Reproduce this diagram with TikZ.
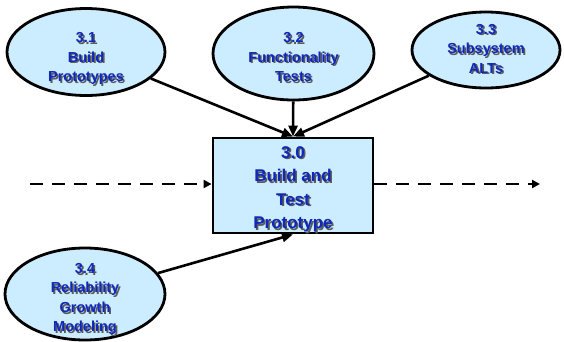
\documentclass[tikz,border=0pt]{standalone}
\usepackage{fontspec}
\setmainfont{Liberation Sans}
\usetikzlibrary{shapes.geometric,arrows.meta}
\definecolor{fillblue}{RGB}{204,236,255}
\definecolor{txtblue}{RGB}{15,40,185}
\definecolor{shgray}{RGB}{90,90,90}
\newcommand\shtxt[1]{\makebox[0pt][l]{\hspace{1.6pt}\raisebox{-1.6pt}{\textcolor{shgray}{#1}}}\textcolor{txtblue}{#1}}
\tikzset{
  proc/.style={ellipse, draw=black, fill=fillblue, line width=2.8pt, inner sep=0pt},
  proctext/.style={inner sep=0pt, align=center, font=\bfseries\fontsize{14.5}{19.5}\selectfont},
  mainbox/.style={rectangle, draw=black, fill=fillblue, line width=2.8pt, inner sep=0pt,
    minimum width=160pt, minimum height=95pt},
  boxtext/.style={inner sep=0pt, align=center, font=\bfseries\fontsize{17}{23.5}\selectfont},
  flow/.style={draw=black, line width=2.6pt, -{Triangle[length=11pt,width=9pt]}},
  dflow/.style={draw=black, line width=2.6pt, dash pattern=on 13pt off 9pt, -{Triangle[length=8pt,width=8pt]}}
}
\begin{document}
\begin{tikzpicture}[x=1pt,y=-1pt]
\useasboundingbox (0,0) rectangle (564,341);
\node[proc, minimum width=158pt, minimum height=87pt] (e1) at (86,52) {};
\node[proc, minimum width=161pt, minimum height=93pt] (e2) at (293.5,53.5) {};
\node[proc, minimum width=148pt, minimum height=76pt] (e3) at (486,50) {};
\node[proc, minimum width=160pt, minimum height=92pt] (e4) at (85,294) {};
\node[mainbox] (box) at (293,185.5) {};
\node[proctext] (t1) at (86,59.5) {\shtxt{3.1}\\\shtxt{Build}\\\shtxt{Prototypes}};
\node[proctext] (t2) at (293.5,58) {\shtxt{3.2}\\\shtxt{Functionality}\\\shtxt{Tests}};
\node[proctext] (t3) at (486,49.5) {\shtxt{3.3}\\\shtxt{Subsystem}\\\shtxt{ALTs}};
\node[proctext] (t4) at (85,300) {\shtxt{3.4}\\\shtxt{Reliability}\\\shtxt{Growth}\\\shtxt{Modeling}};
\node[boxtext] (t0) at (293,190) {\shtxt{3.0}\\\shtxt{Build and}\\\shtxt{Test}\\\shtxt{Prototype}};
\coordinate (inL) at (30,184);
\coordinate (outR) at (540,184);
\draw[flow] (e1) -- (box.north);
\draw[flow] (e2) -- (box.north);
\draw[flow] (e3) -- (box.north);
\draw[flow] (e4) -- (box.south);
\draw[dflow] (inL) -- (inL -| box.west);
\draw[dflow] (outR -| box.east) -- (outR);
\end{tikzpicture}
\end{document}
